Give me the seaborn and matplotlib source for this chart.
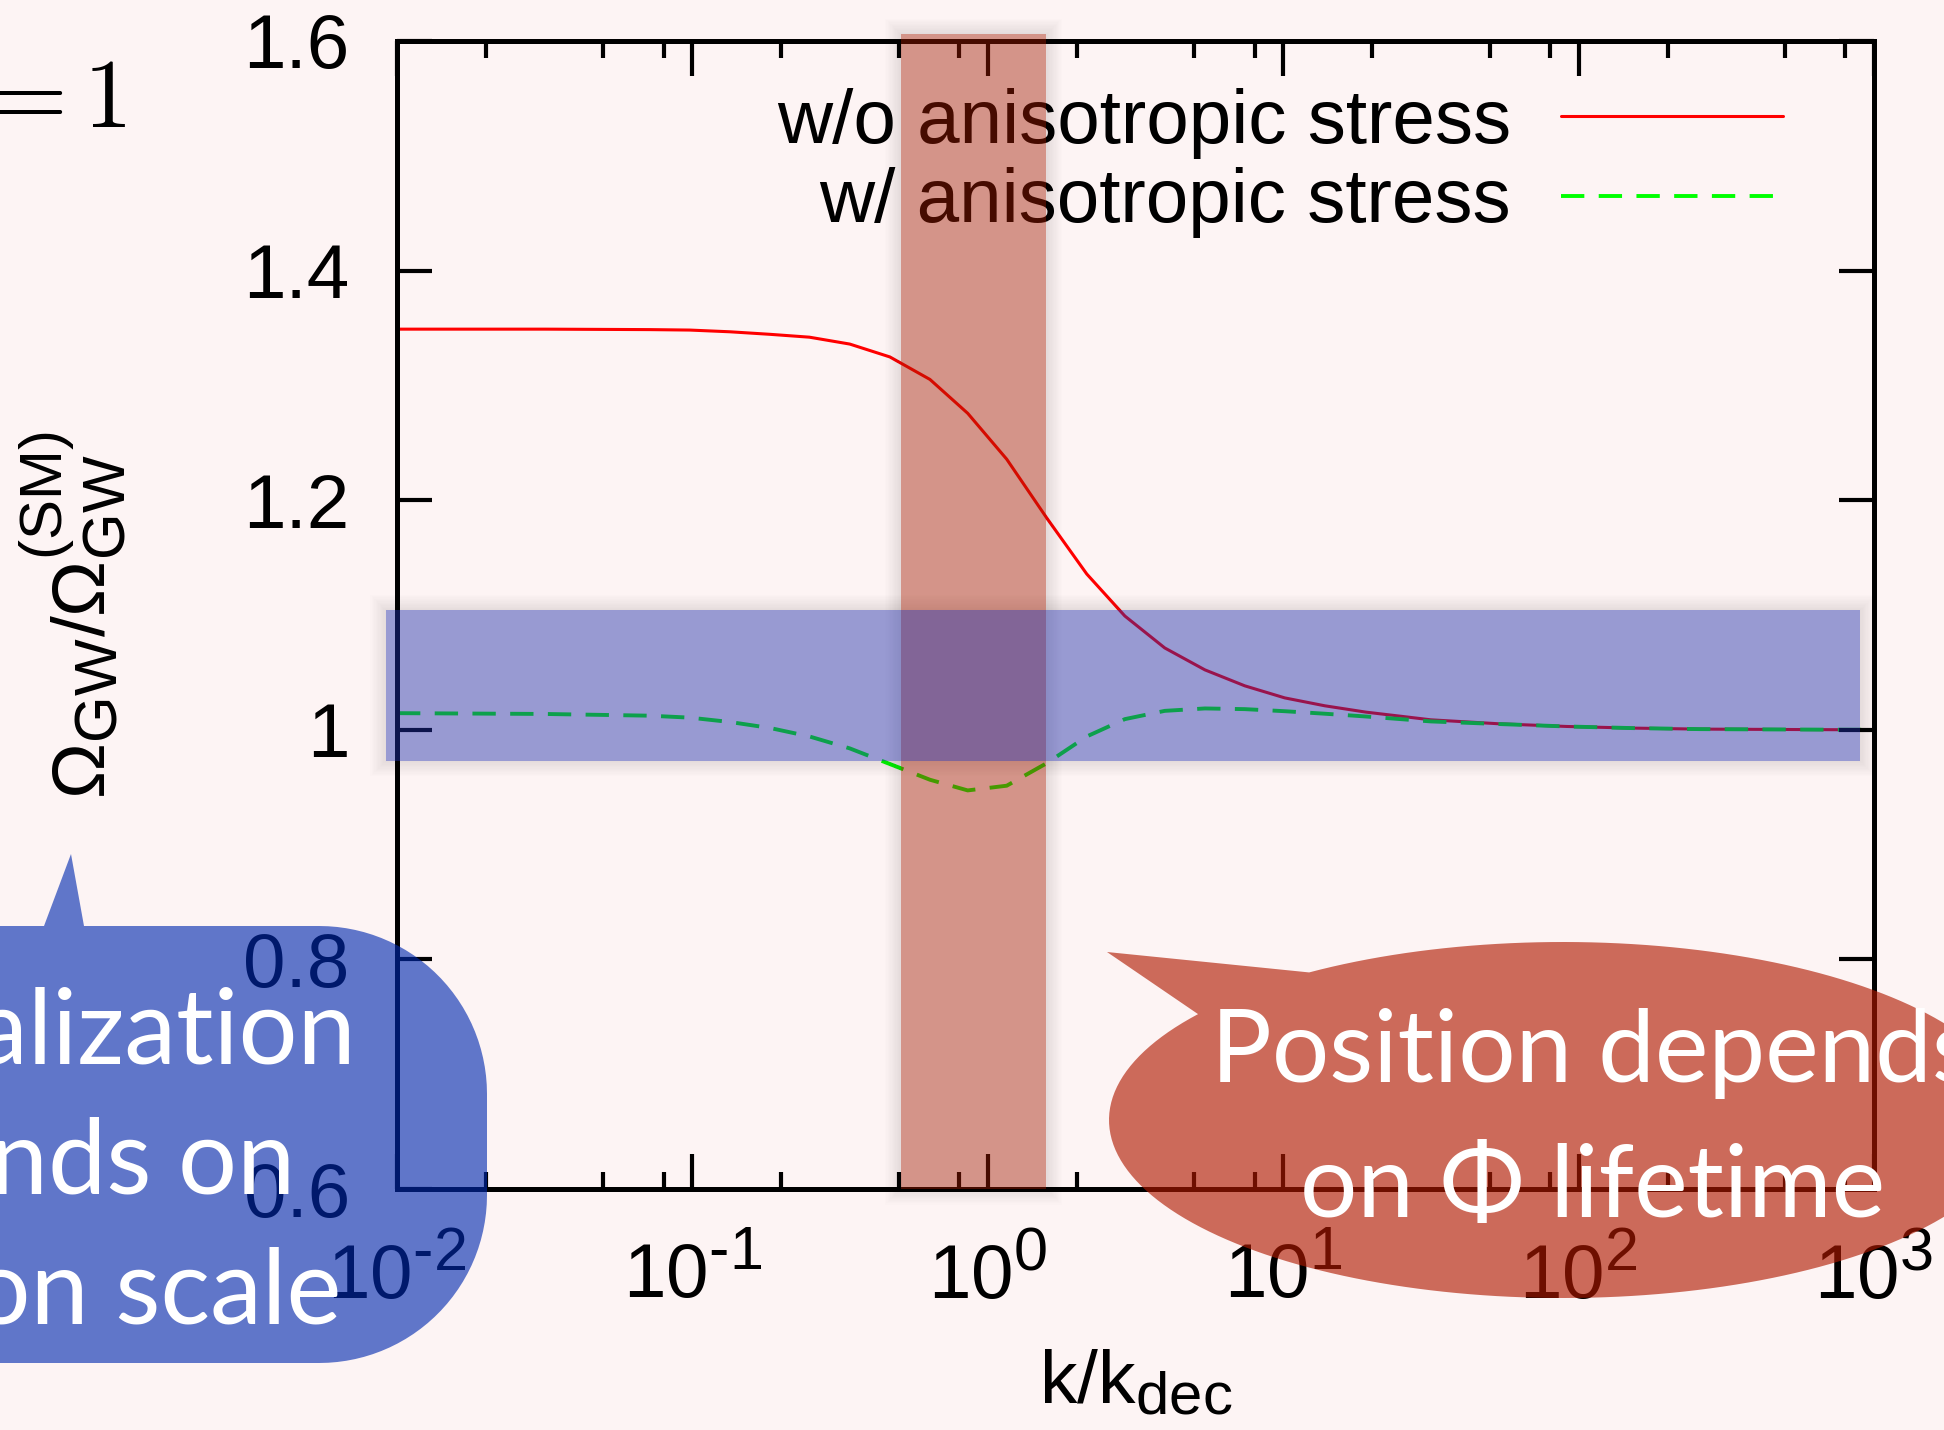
import numpy as np
import pandas as pd
import matplotlib
matplotlib.use("Agg")
import matplotlib.pyplot as plt
import seaborn as sns
from matplotlib.path import Path
from matplotlib.patches import PathPatch
from matplotlib.transforms import IdentityTransform
from matplotlib.ticker import LogLocator, NullFormatter, NullLocator

# ---------------- data ----------------
k_values = [0.01, 0.0316, 0.0716, 0.098, 0.134, 0.183, 0.249, 0.341, 0.466,
            0.637, 0.855, 1.159, 1.585, 2.163, 2.911, 3.972, 5.433, 7.413,
            10.12, 13.84, 19.05, 31.6, 54.1, 91.2, 151.0, 257.0, 724.0, 1000.0]
ratio_without_stress = [1.349, 1.349, 1.3486, 1.3482, 1.3467, 1.3445, 1.3420,
                        1.3360, 1.3248, 1.3052, 1.2757, 1.2357, 1.1843, 1.1357,
                        1.0991, 1.0713, 1.0522, 1.0383, 1.0278, 1.0209, 1.0154,
                        1.0087, 1.0052, 1.0029, 1.0015, 1.0006, 1.0001, 1.0]
ratio_with_stress = [1.0145, 1.0138, 1.0123, 1.0106, 1.0068, 1.0016, 0.9942,
                     0.9838, 0.9702, 0.9565, 0.9472, 0.9513, 0.9710, 0.9942,
                     1.0093, 1.0165, 1.0186, 1.0180, 1.0162, 1.0140, 1.0116,
                     1.0073, 1.0050, 1.0029, 1.0015, 1.0006, 1.0001, 1.0]
series_labels = ["w/o anisotropic stress", "w/ anisotropic stress"]

x_ticks = [1e-2, 1e-1, 1e0, 1e1, 1e2, 1e3]
x_tick_labels = [r"$10^{\text{-}2}$", r"$10^{\text{-}1}$", r"$10^{0}$",
                 r"$10^{1}$", r"$10^{2}$", r"$10^{3}$"]
y_ticks = [0.6, 0.8, 1.0, 1.2, 1.4, 1.6]
y_tick_labels = ["0.6", "0.8", "1", "1.2", "1.4", "1.6"]

k_band = (0.507, 1.58)        # highlighted k range (vertical band)
ratio_band = (0.973, 1.104)   # highlighted ratio range (horizontal band)

bubble_blue_lines = ["Normalization", "depends on", "inflation scale"]
bubble_red_lines = ["Position depends", "on \u03a6 lifetime"]

# ---------------- style ----------------
W, H, DPI = 1944, 1430, 100
BG = "#fdf4f4"
sns.set_style("ticks")
plt.rcParams.update({
    "figure.facecolor": BG,
    "axes.facecolor": BG,
    "savefig.facecolor": BG,
    "text.color": "black",
    "axes.labelcolor": "black",
    "xtick.color": "black",
    "ytick.color": "black",
    "mathtext.fontset": "custom",
    "mathtext.rm": "Liberation Sans",
    "mathtext.it": "Liberation Sans:italic",
    "mathtext.bf": "Liberation Sans:bold",
    "mathtext.sf": "Liberation Sans",
    "axes.unicode_minus": False,
})
plt.rcParams["font.family"] = ["Liberation Sans", "DejaVu Sans"]
try:
    import matplotlib._mathtext as _mt
    _mt.SHRINK_FACTOR = 0.8
except Exception:
    pass

fig = plt.figure(figsize=(W / DPI, H / DPI), dpi=DPI)
ax = fig.add_axes([397 / W, 1 - 1189 / H, (1874 - 397) / W, (1189 - 41) / H])
ax.set_facecolor(BG)
ax.set_axisbelow(False)
ax.set_xscale("log")

sns.lineplot(x=k_values, y=ratio_without_stress, ax=ax, color="#ff0000",
             linewidth=2.2, label=series_labels[0], estimator=None, sort=False)
sns.lineplot(x=k_values, y=ratio_with_stress, ax=ax, color="#00ff00",
             linewidth=2.8, label=series_labels[1], estimator=None, sort=False)
ax.lines[-1].set_dashes((6, 3.7))

ax.set_xlim(1e-2, 1e3)
ax.set_ylim(0.6, 1.6)

ax.set_xticks(x_ticks)
ax.set_xticklabels(x_tick_labels)
ax.xaxis.set_minor_locator(LogLocator(base=10, subs=(2, 5, 8), numticks=30))
ax.xaxis.set_minor_formatter(NullFormatter())
ax.set_yticks(y_ticks)
ax.set_yticklabels(y_tick_labels)
ax.yaxis.set_minor_locator(NullLocator())

ax.tick_params(which="both", direction="in", top=True, right=True,
               width=3, color="black", labelcolor="black")
ax.tick_params(which="major", length=25)
ax.tick_params(which="minor", length=12)
ax.tick_params(axis="x", which="major", pad=36, labelsize=55)
ax.tick_params(axis="y", which="major", pad=34, labelsize=55)
for s in ax.spines.values():
    s.set_linewidth(3.6)
    s.set_color("black")

ax.set_xlabel(r"k/k$_{\mathrm{dec}}$", fontsize=54, color="black")
ax.xaxis.set_label_coords(0.5, -0.1385)
ax.set_ylabel(r"$\Omega_{\mathrm{GW}}/\Omega_{\mathrm{GW}}^{(\mathrm{SM})}$",
              fontsize=54, color="black")
ax.yaxis.set_label_coords(-0.182, 0.5)

handles, labels = ax.get_legend_handles_labels()
leg = ax.legend(handles, labels, loc="upper right", bbox_to_anchor=(0.9384, 0.959),
                frameon=False, markerfirst=False, handlelength=2.9,
                handletextpad=0.66, labelspacing=0.11, borderpad=0,
                borderaxespad=0, fontsize=55)
for txt in leg.get_texts():
    txt.set_color("black")

# highlight bands (drawn above everything in the axes)
red_band_color = (160 / 255, 26 / 255, 0)
blue_band_color = (30 / 255, 45 / 255, 170 / 255)
vspan = ax.axvspan(k_band[0], k_band[1], ymin=0, ymax=1.006,
                   facecolor=red_band_color, alpha=0.44, lw=0,
                   zorder=20, clip_on=False)
hspan = ax.axhspan(ratio_band[0], ratio_band[1], xmin=-0.0074, xmax=0.9905,
                   facecolor=blue_band_color, alpha=0.45, lw=0,
                   zorder=21, clip_on=False)


def soft_shadow(artist_axes, corners, zorder, steps=12, step_px=1.3, alpha=0.009):
    """Soft grey halo outside a rectangle given in display pixels."""
    (xa, ya), (xb, yb) = corners
    inner = [(xa, ya), (xa, yb), (xb, yb), (xb, ya), (xa, ya)]
    for i in range(1, steps + 1):
        d = i * step_px
        outer = [(xa - d, ya - d), (xb + d, ya - d), (xb + d, yb + d),
                 (xa - d, yb + d), (xa - d, ya - d)]
        verts = outer + inner
        codes = ([Path.MOVETO] + [Path.LINETO] * 3 + [Path.CLOSEPOLY]) * 2
        artist_axes.add_patch(PathPatch(Path(verts, codes), facecolor="black",
                                        alpha=alpha, lw=0, zorder=zorder,
                                        transform=IdentityTransform(),
                                        clip_on=False))


# band corners in display pixels, through the axes transforms
vx0, vy0 = ax.transData.transform((k_band[0], 0.6))
vx1, _ = ax.transData.transform((k_band[1], 0.6))
_, vy1 = ax.transAxes.transform((0, 1.006))
soft_shadow(ax, ((vx0, vy0), (vx1, vy1)), zorder=19)
_, hy0 = ax.transData.transform((1.0, ratio_band[0]))
_, hy1 = ax.transData.transform((1.0, ratio_band[1]))
hx0, _ = ax.transAxes.transform((-0.0074, 0))
hx1, _ = ax.transAxes.transform((0.9905, 0))
soft_shadow(ax, ((hx0, hy0), (hx1, hy1)), zorder=19)

# ---------------- overlay callouts (pixel space) ----------------
ov = fig.add_axes([0, 0, 1, 1], zorder=10)
ov.set_xlim(0, W)
ov.set_ylim(H, 0)
ov.axis("off")
ov.patch.set_alpha(0)

# blue rounded callout with upward pointer
x0, x1, y0, y1, r = -400, 487, 926, 1363, 168
pts = [(x0, y0), (44, y0), (71, 854), (84, y0), (x1 - r, y0)]
for a in np.linspace(-90, 0, 30):
    pts.append((x1 - r + r * np.cos(np.radians(a)), y0 + r + r * np.sin(np.radians(a))))
for a in np.linspace(0, 90, 30):
    pts.append((x1 - r + r * np.cos(np.radians(a)), y1 - r + r * np.sin(np.radians(a))))
pts.append((x0, y1))
pts.append((x0, y0))
ov.add_patch(PathPatch(Path(pts, closed=True), facecolor=(0, 41 / 255, 175 / 255),
                       alpha=0.62, lw=0))

# red elliptical callout with pointer to the upper left
cx, cy, a_, b_ = 1563, 1120, 454, 178
t = np.radians(np.linspace(143.5, 484, 200))
epts = [(cx + a_ * np.cos(tt), cy - b_ * np.sin(tt)) for tt in t]
epts.append((1107, 952))
epts.append(epts[0])
ov.add_patch(PathPatch(Path(epts, closed=True), facecolor=(176 / 255, 25 / 255, 0),
                       alpha=0.63, lw=0))

bfont = ["Lato", "DejaVu Sans"]
ov.text(356, 1063, bubble_blue_lines[0], ha="right", va="baseline", color="white",
        fontsize=75, family=bfont)
ov.text(295, 1194, bubble_blue_lines[1], ha="right", va="baseline", color="white",
        fontsize=75, family=bfont)
ov.text(341, 1324, bubble_blue_lines[2], ha="right", va="baseline", color="white",
        fontsize=75, family=bfont)
ov.text(1593, 1082, bubble_red_lines[0], ha="center", va="baseline", color="white",
        fontsize=73, family=bfont)
ov.text(1593, 1217, bubble_red_lines[1], ha="center", va="baseline", color="white",
        fontsize=73, family=bfont)

ov.text(127, 127, r"$=1$", ha="right", va="baseline", color="black",
        fontsize=70, math_fontfamily="cm")

fig.savefig("out.png", dpi=DPI)
